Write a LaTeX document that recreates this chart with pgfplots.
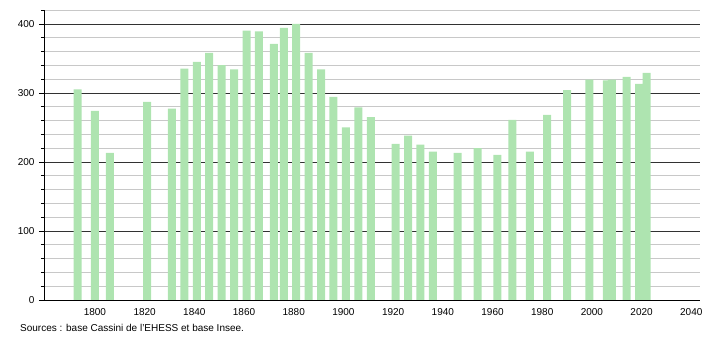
\documentclass[border=0pt]{standalone}
\usepackage{pgfplots}
\pgfplotsset{compat=1.18}
\usepackage{fontspec}
\setmainfont{Liberation Sans}
\definecolor{bargreen}{RGB}{174,228,176}
\definecolor{minorgrid}{RGB}{200,200,200}
\definecolor{majorgrid}{RGB}{50,50,50}
\begin{document}
\begin{tikzpicture}
\begin{axis}[
  at={(0,0)}, anchor=south west,
  scale only axis, width=656pt, height=290pt,
  xmin=1779.5, xmax=2043.5, ymin=0, ymax=420,
  axis x line=bottom, axis y line=left,
  axis line style={black, line width=0.8pt, -},
  xtick={1800,1820,...,2040},
  ytick={0,100,...,400},
  minor ytick={20,40,60,80,120,140,160,180,220,240,260,280,320,340,360,380,420},
  xticklabel style={/pgf/number format/1000 sep={}, font=\fontsize{10}{11}\selectfont},
  yticklabel style={font=\fontsize{10}{11}\selectfont, xshift=-1pt},
  /pgf/number format/assume math mode=true,
  x tick style={draw=none},
  tick align=outside,
  major tick length=5pt, minor tick length=3pt,
  y tick style={black, line width=0.6pt},
  ymajorgrids, yminorgrids,
  major grid style={majorgrid, line width=0.6pt},
  minor grid style={minorgrid, line width=0.6pt},
  clip=false,
]
\addplot[ybar, bar width=8pt, bar shift=0pt, fill=bargreen, draw=none] coordinates {
(1793,305) (1800,274) (1806,213) (1821,287) (1831,277) (1836,335) (1841,345)
(1846,358) (1851,340) (1856,334) (1861,390) (1866,389) (1872,371) (1876,394)
(1881,400) (1886,358) (1891,334) (1896,294) (1901,250) (1906,279) (1911,265)
(1921,226) (1926,238) (1931,225) (1936,215) (1946,213) (1954,220) (1962,210)
(1968,261) (1975,215) (1982,268) (1990,304) (1999,319) (2006,318) (2008,319)
(2014,323) (2019,313) (2022,329)
};
\end{axis}
\node[anchor=west, font=\fontsize{10}{11}\selectfont, inner sep=0pt] at (-24pt,-28pt) {Sources : base Cassini de l'EHESS et base Insee.};
\pgfresetboundingbox
\useasboundingbox (-44pt,-40pt) rectangle (666pt,300pt);
\end{tikzpicture}
\end{document}
